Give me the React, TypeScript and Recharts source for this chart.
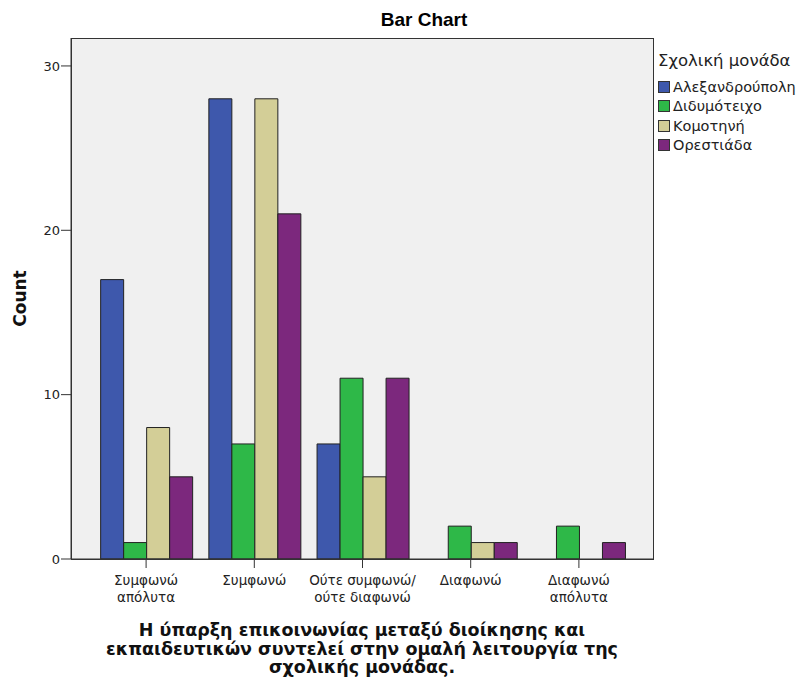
import React from "react";
import { BarChart, Bar, XAxis, YAxis, CartesianGrid } from "recharts";

const categories = [
  "Συμφωνώ\nαπόλυτα",
  "Συμφωνώ",
  "Ούτε συμφωνώ/\nούτε διαφωνώ",
  "Διαφωνώ",
  "Διαφωνώ\nαπόλυτα",
];
const alexandroupoli = [17, 28, 7, 0, 0];
const didymoteicho = [1, 7, 11, 2, 2];
const komotini = [8, 28, 5, 1, 0];
const orestiada = [5, 21, 11, 1, 1];
const yTicks = [0, 10, 20, 30];

const series = [
  { key: "alex", name: "Αλεξανδρούπολη", color: "#3e58ac" },
  { key: "didy", name: "Διδυμότειχο", color: "#2eb848" },
  { key: "komo", name: "Κομοτηνή", color: "#d3ce97" },
  { key: "ores", name: "Ορεστιάδα", color: "#7c287d" },
];

const data = categories.map((c, i) => ({
  cat: c,
  alex: alexandroupoli[i],
  didy: didymoteicho[i],
  komo: komotini[i],
  ores: orestiada[i],
}));

const font = "Arial, 'Liberation Sans', sans-serif";
const wide = "'DejaVu Sans', Verdana, sans-serif";

function CatTick(props: any) {
  const { x, y, payload } = props;
  const lines = String(payload.value).split("\n");
  return (
    <g>
      {lines.map((l: string, i: number) => (
        <text
          key={i}
          x={x}
          y={y + 16 + i * 17}
          textAnchor="middle"
          fontSize={13.5}
          fontFamily={wide}
          fill="#222"
        >
          {l}
        </text>
      ))}
    </g>
  );
}

function LegendBox() {
  return (
    <div style={{ fontFamily: wide, color: "#222", position: "relative" }}>
      <div style={{ position: "absolute", top: 0, fontSize: 16.5, lineHeight: "22px", whiteSpace: "nowrap" }}>
        Σχολική μονάδα
      </div>
      {series.map((s, i) => (
        <div
          key={s.key}
          style={{
            position: "absolute",
            top: 27 + i * 19.5,
            display: "flex",
            alignItems: "center",
            fontSize: 14.5,
            height: 19,
            whiteSpace: "nowrap",
          }}
        >
          <span
            style={{
              display: "inline-block",
              width: 12,
              height: 12,
              boxSizing: "border-box",
              background: s.color,
              border: "1px solid #333",
              marginRight: 3,
              flexShrink: 0,
            }}
          />
          {s.name}
        </div>
      ))}
    </div>
  );
}

export default function App() {
  return (
    <div style={{ position: "absolute", left: 0, top: 0, width: 799, height: 681, background: "#fff", overflow: "hidden" }}>
      <div
        style={{
          position: "absolute",
          left: 324,
          width: 200,
          top: 9,
          textAlign: "center",
          fontFamily: font,
          fontWeight: "bold",
          fontSize: 19,
        }}
      >
        Bar Chart
      </div>
      <BarChart
        width={799}
        height={681}
        data={data}
        margin={{ top: 38, right: 145, bottom: 0, left: 0 }}
        barCategoryGap="8%"
        barGap={0}
      >
        <CartesianGrid fill="#f0f0f0" horizontal={false} vertical={false} />
        <XAxis
          dataKey="cat"
          height={122}
          interval={0}
          padding={{ left: 21, right: 21 }}
          tick={<CatTick />}
          tickSize={9}
          tickMargin={1}
          axisLine={{ stroke: "#333" }}
          tickLine={{ stroke: "#333" }}
        />
        <YAxis
          width={71}
          domain={[0, 31.7]}
          ticks={yTicks}
          tickSize={10}
          tickMargin={1}
          tick={{ fontSize: 13, fill: "#222", fontFamily: wide }}
          axisLine={{ stroke: "#333" }}
          tickLine={{ stroke: "#333" }}
          label={{
            value: "Count",
            angle: -90,
            position: "insideLeft",
            offset: 20,
            style: { fontSize: 17, fontWeight: "bold", fill: "#111", fontFamily: wide, textAnchor: "middle" },
          }}
        />
        {series.map((s) => (
          <Bar
            key={s.key}
            dataKey={s.key}
            name={s.name}
            fill={s.color}
            stroke="#222"
            strokeWidth={1}
            isAnimationActive={false}
          />
        ))}
      </BarChart>
      <div
        style={{
          position: "absolute",
          left: 71,
          top: 38,
          width: 583,
          height: 522,
          boxSizing: "border-box",
          border: "1px solid #333",
          pointerEvents: "none",
        }}
      />
      <div style={{ position: "absolute", left: 658, top: 50, width: 141 }}>
        <LegendBox />
      </div>
      <div
        style={{
          position: "absolute",
          left: 12,
          width: 700,
          top: 621,
          textAlign: "center",
          fontFamily: wide,
          fontWeight: "bold",
          fontSize: 17.5,
          lineHeight: "18.5px",
          color: "#111",
        }}
      >
        Η ύπαρξη επικοινωνίας μεταξύ διοίκησης και
        <br />
        εκπαιδευτικών συντελεί στην ομαλή λειτουργία της
        <br />
        σχολικής μονάδας.
      </div>
    </div>
  );
}
